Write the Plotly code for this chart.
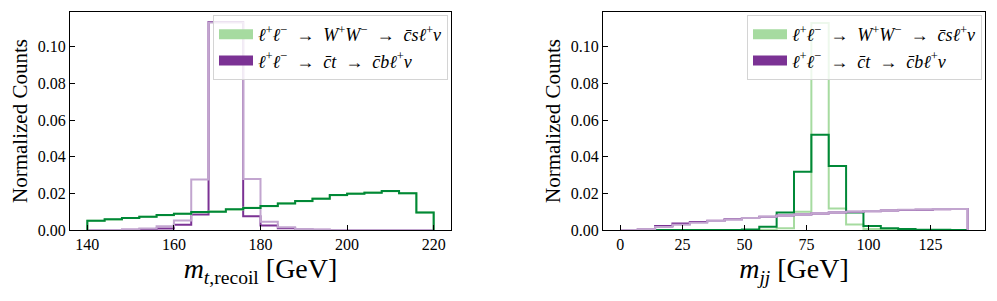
import numpy as np
import plotly.graph_objects as go

# ---------------- data ----------------
# left panel: m_t,recoil, bins 140..220 width 4
mt_edges = list(range(140, 221, 4))
mt_ww_reco = [0.0051, 0.0058, 0.0065, 0.0073, 0.0082, 0.0089, 0.0098, 0.0100, 0.0113, 0.0120,
              0.0131, 0.0145, 0.0158, 0.0171, 0.0191, 0.0198, 0.0204, 0.0213, 0.0200, 0.0095]
mt_ww_true = [0.0050, 0.0057, 0.0065, 0.0072, 0.0081, 0.0089, 0.0097, 0.0101, 0.0112, 0.0121,
              0.0130, 0.0146, 0.0157, 0.0172, 0.0190, 0.0199, 0.0205, 0.0212, 0.0201, 0.0096]
mt_ct_reco = [0.0, 0.0, 0.0001, 0.0003, 0.0008, 0.0028, 0.0085, 0.1135, 0.1135, 0.0075,
              0.0025, 0.0010, 0.0003, 0.0001, 0.0, 0.0, 0.0, 0.0, 0.0, 0.0]
mt_ct_true = [0.0, 0.0, 0.0003, 0.0008, 0.0020, 0.0052, 0.0276, 0.1133, 0.1133, 0.0278,
              0.0045, 0.0015, 0.0005, 0.0002, 0.0, 0.0, 0.0, 0.0, 0.0, 0.0]

# right panel: m_jj, bins 0..140 width 7
mjj_edges = list(range(0, 141, 7))
mjj_ww_reco = [0.0, 0.0, 0.0, 0.0, 0.0, 0.0, 0.0, 0.0003, 0.0018, 0.0095,
               0.0318, 0.0520, 0.0350, 0.0095, 0.0022, 0.0009, 0.0005, 0.0002, 0.0001, 0.0]
mjj_ww_true = [0.0, 0.0, 0.0, 0.0, 0.0, 0.0, 0.0, 0.0, 0.0002, 0.0010,
               0.0100, 0.1130, 0.0118, 0.0030, 0.0005, 0.0001, 0.0, 0.0, 0.0, 0.0]
mjj_ct_reco = [0.0, 0.0003, 0.0022, 0.0035, 0.0043, 0.0051, 0.0058, 0.0065, 0.0072, 0.0079,
               0.0085, 0.0090, 0.0095, 0.0099, 0.0103, 0.0106, 0.0109, 0.0111, 0.0113, 0.0114]
mjj_ct_true = [0.0, 0.0004, 0.0016, 0.0029, 0.0040, 0.0049, 0.0057, 0.0065, 0.0072, 0.0079,
               0.0085, 0.0091, 0.0096, 0.0100, 0.0104, 0.0107, 0.0110, 0.0112, 0.0114, 0.0115]

yticks = [0.0, 0.02, 0.04, 0.06, 0.08, 0.10]
mt_ticks = [140, 160, 180, 200, 220]
mjj_ticks = [0, 25, 50, 75, 100, 125]

label_ww = "<i>ℓ</i><sup>+</sup><i>ℓ</i><sup>−</sup>  →  <i>W</i><sup>+</sup><i>W</i><sup>−</sup>  →  <i>c̄sℓ</i><sup>+</sup><i>ν</i>"
label_ct = "<i>ℓ</i><sup>+</sup><i>ℓ</i><sup>−</sup>  →  <i>c̄t</i>  →  <i>c̄bℓ</i><sup>+</sup><i>ν</i>"

DG, LG, DP, LP = "#008837", "#a6dba0", "#7b3294", "#c2a5cf"
FONT = "Liberation Serif"


def step(edges, vals):
    x = [edges[0]] + list(edges)
    y = [0.0] + list(vals) + [0.0]
    return x, y


fig = go.Figure()


def add_hist(edges, vals, color, xa, ya):
    x, y = step(edges, vals)
    fig.add_trace(go.Scatter(x=x, y=y, mode="lines", line=dict(color=color, width=2, shape="hv"),
                             xaxis=xa, yaxis=ya, showlegend=False, hoverinfo="skip"))


add_hist(mt_edges, mt_ct_reco, DP, "x", "y")
add_hist(mt_edges, mt_ct_true, LP, "x", "y")
add_hist(mt_edges, mt_ww_true, LG, "x", "y")
add_hist(mt_edges, mt_ww_reco, DG, "x", "y")

add_hist(mjj_edges, mjj_ww_true, LG, "x2", "y2")
add_hist(mjj_edges, mjj_ww_reco, DG, "x2", "y2")
add_hist(mjj_edges, mjj_ct_reco, DP, "x2", "y2")
add_hist(mjj_edges, mjj_ct_true, LP, "x2", "y2")

for xa, ya, lg in [("x", "y", "legend"), ("x2", "y2", "legend2")]:
    fig.add_trace(go.Scatter(x=[None], y=[None], mode="lines", line=dict(color=LG, width=12),
                             name=label_ww, xaxis=xa, yaxis=ya, legend=lg, showlegend=True))
    fig.add_trace(go.Scatter(x=[None], y=[None], mode="lines", line=dict(color=DP, width=12),
                             name=label_ct, xaxis=xa, yaxis=ya, legend=lg, showlegend=True))

# page body has an 8px margin -> compensate
OFF = 8
W, H = 997 - OFF, 301 - OFF


def px_x(p):
    return (p - OFF) / W


def px_y(p):
    return 1 - (p - OFF) / H


ydom = [px_y(230), px_y(12)]
axcommon = dict(showline=True, linecolor="black", linewidth=1.3, mirror=True, ticks="inside",
                ticklen=5, tickcolor="black", showgrid=False, zeroline=False, automargin=False,
                tickfont=dict(family=FONT, size=16, color="black"))
legcommon = dict(bgcolor="rgba(255,255,255,0.8)", bordercolor="#d4d4d4", borderwidth=1,
                 font=dict(family=FONT, size=18, color="black"), xanchor="right", yanchor="top",
                 itemwidth=34, tracegroupgap=0)
xtitle_font = dict(family=FONT, size=28, color="black")
ytitle_font = dict(family=FONT, size=21, color="black")

fig.update_layout(
    template="none",
    width=W, height=H, margin=dict(l=0, r=0, t=0, b=0, autoexpand=False),
    paper_bgcolor="white", plot_bgcolor="white",
    xaxis=dict(domain=[px_x(70), px_x(451)], range=[136, 224], tickvals=mt_ticks, anchor="y",
               title=dict(text="<i>m</i><sub><i>t</i>,recoil</sub> [GeV]", font=xtitle_font, standoff=2),
               **axcommon),
    yaxis=dict(domain=ydom, range=[0, 0.119], tickvals=yticks, tickformat=".2f", anchor="x",
               title=dict(text="Normalized Counts", font=ytitle_font, standoff=4),
               **axcommon),
    xaxis2=dict(domain=[px_x(603), px_x(985)], range=[-7, 147], tickvals=mjj_ticks, anchor="y2",
                title=dict(text="<i>m</i><sub><i>jj</i></sub> [GeV]", font=xtitle_font, standoff=2),
                **axcommon),
    yaxis2=dict(domain=ydom, range=[0, 0.119], tickvals=yticks, tickformat=".2f", anchor="x2",
                title=dict(text="Normalized Counts", font=ytitle_font, standoff=4),
                **axcommon),
    legend=dict(x=px_x(448), y=px_y(15), **legcommon),
    legend2=dict(x=px_x(982), y=px_y(15), **legcommon),
)

fig.write_html("out.html")
